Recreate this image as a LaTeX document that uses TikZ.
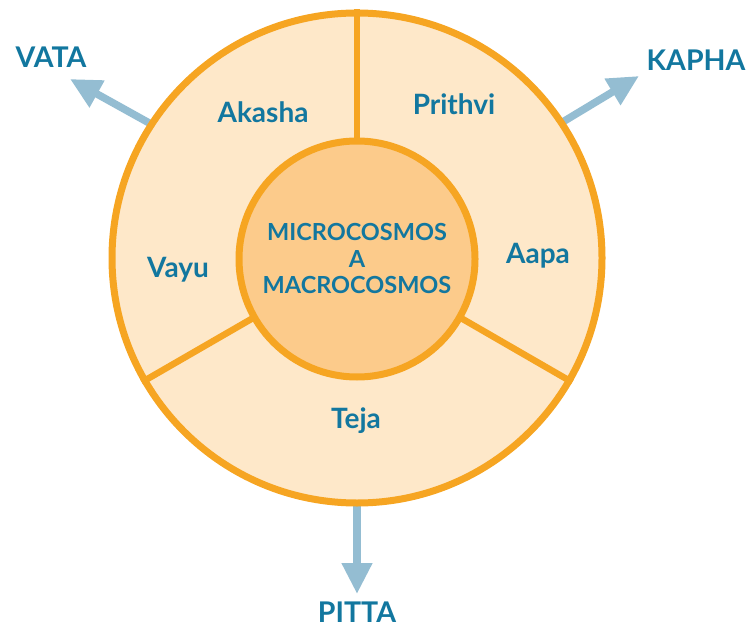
\documentclass[tikz,border=0pt]{standalone}
\usepackage{fontspec}
\setmainfont{Lato}
\usetikzlibrary{arrows.meta}
\definecolor{ring}{HTML}{F6A522}
\definecolor{peach}{HTML}{FEE8C9}
\definecolor{core}{HTML}{FCCB8B}
\definecolor{ink}{HTML}{12779F}
\definecolor{arr}{HTML}{94BDD2}
\tikzset{
  lbl/.style={text=ink, font=\fontsize{28.5}{32}\selectfont\bfseries, inner sep=0},
  seg/.style={text=ink, font=\fontsize{28}{32}\selectfont\bfseries, inner sep=0},
  divider/.style={draw=ring, line width=6.5pt},
  flow/.style={draw=arr, line width=7.5pt, -{Triangle[length=31pt,width=29pt]}},
}
\begin{document}
\begin{tikzpicture}[x=1pt,y=-1pt]
\useasboundingbox (0,0) rectangle (749,628);
% arrows
\coordinate (v0) at (151,124);
\coordinate (v1) at (70,79);
\coordinate (k0) at (561,123);
\coordinate (k1) at (639,76);
\coordinate (p0) at (357,500);
\coordinate (p1) at (357,594);
\draw[flow] (v0) -- (v1);
\draw[flow] (k0) -- (k1);
\draw[flow] (p0) -- (p1);
% outer ring
\node[circle, draw=ring, line width=7pt, fill=peach, minimum size=490pt, inner sep=0] (outer) at (357,258) {};
\draw[divider] (outer.90) -- (outer.center);
\draw[divider] (outer.210) -- (outer.center);
\draw[divider] (outer.330) -- (outer.center);
% inner circle
\node[circle, draw=ring, line width=7pt, fill=core, minimum size=236pt, inner sep=0,
      align=center, text=ink, font=\fontsize{23.5}{26.5}\selectfont\bfseries] (inner) at (357,259)
      {MICROCOSMOS\\A\\MACROCOSMOS};
% segment labels
\node[seg] (akasha) at (263,112) {Akasha};
\node[seg] (prithvi) at (454,104) {Prithvi};
\node[seg] (vayu) at (178,270) {Vayu};
\node[seg] (aapa) at (538,256) {Aapa};
\node[seg] (teja) at (356,421) {Teja};
% dosha labels
\node[lbl] (vata) at (51,57) {VATA};
\node[lbl] (kapha) at (696,60) {KAPHA};
\node[lbl] (pitta) at (357,612) {PITTA};
\end{tikzpicture}
\end{document}
